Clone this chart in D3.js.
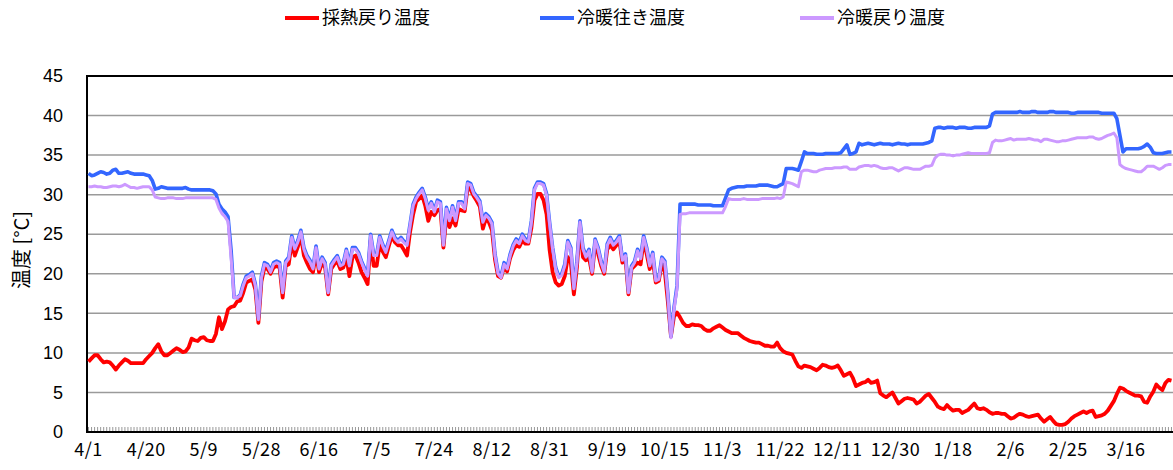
<!DOCTYPE html>
<html>
<head>
<meta charset="utf-8">
<script src="https://cdn.jsdelivr.net/npm/d3@7"></script>
<style>
  body { margin: 0; background: #fff; }
  svg { display: block; }
  .ytick text { font-family: "Liberation Sans", Arial, sans-serif; font-size: 18px; fill: #000; }
  .xlab text { font-family: "Noto Sans CJK JP", sans-serif; font-size: 18px; fill: #000; letter-spacing: 0.5px; }
  .legend text { font-family: "Noto Sans CJK JP", sans-serif; font-size: 18px; fill: #000; }
</style>
</head>
<body>
<svg id="chart" width="1173" height="470"></svg>
<script>
// series names
const seriesNames = ["採熱戻り温度", "冷暖往き温度", "冷暖戻り温度"];

// 4/1 .. 3/31, a week in early October is missing from the log
const categories = d3.timeDay.range(new Date(2021, 3, 1), new Date(2022, 3, 1))
    .filter(d => !(d >= new Date(2021, 8, 29) && d < new Date(2021, 9, 6)))
    .map(d => (d.getMonth() + 1) + "/" + d.getDate());

const tickLabels = ["4/1", "4/20", "5/9", "5/28", "6/16", "7/5", "7/24", "8/12", "8/31", "9/19",
    "10/15", "11/3", "11/22", "12/11", "12/30", "1/18", "2/6", "2/25", "3/16"];

const yTicks = [0, 5, 10, 15, 20, 25, 30, 35, 40, 45];

// 採熱戻り温度
const saiNetsuModori = [
    8.9, 9.3, 9.7, 9.7, 9.2, 8.8, 8.9, 8.8, 8.4, 7.9,
    8.4, 8.8, 9.2, 9.0, 8.7, 8.7, 8.7, 8.7, 8.7, 9.2,
    9.6, 10.0, 10.6, 11.1, 10.2, 9.7, 9.7, 10.0, 10.3, 10.6,
    10.4, 10.1, 10.2, 10.7, 11.8, 11.6, 11.5, 11.9, 12.0, 11.6,
    11.5, 11.5, 12.4, 14.5, 13.0, 14.0, 15.5, 15.8, 15.9, 16.5,
    16.6, 17.6, 18.9, 19.1, 19.3, 18.0, 13.8, 19.0, 20.8, 20.6,
    20.0, 20.8, 21.0, 20.8, 17.0, 21.0, 21.2, 24.0, 22.3, 23.4,
    24.8, 22.3, 21.4, 20.6, 20.2, 22.7, 20.2, 21.4, 20.8, 17.4,
    20.6, 21.2, 21.6, 20.6, 20.8, 22.1, 19.7, 22.1, 22.3, 21.4,
    20.2, 19.5, 18.7, 24.2, 21.0, 21.0, 23.8, 22.8, 22.1, 23.5,
    24.8, 24.0, 23.6, 23.6, 23.0, 22.3, 25.3, 27.5, 29.1, 29.5,
    29.9, 28.6, 26.7, 27.8, 27.4, 28.0, 28.2, 23.3, 27.4, 25.9,
    27.0, 26.1, 28.2, 28.0, 27.9, 31.0, 30.6, 29.8, 29.2, 28.5,
    25.7, 27.0, 26.5, 25.5, 21.8, 19.7, 19.5, 20.9, 20.3, 22.0,
    23.0, 23.6, 23.4, 24.2, 23.8, 23.8, 25.8, 29.3, 30.1, 30.1,
    29.3, 27.5, 23.0, 20.2, 18.9, 18.5, 18.7, 19.7, 22.1, 21.4,
    17.4, 20.8, 26.1, 22.1, 21.7, 22.0, 20.0, 23.8, 22.5, 21.0,
    20.0, 23.1, 23.6, 23.1, 23.6, 24.2, 21.4, 22.0, 17.4, 20.6,
    21.0, 21.4, 21.2, 24.2, 22.5, 20.6, 21.8, 18.9, 19.1, 21.4,
    20.2, 16.4, 12.1, 14.6, 15.1, 14.5, 13.8, 13.4, 13.4, 13.6,
    13.5, 13.5, 13.4, 13.0, 12.8, 12.8, 13.1, 13.3, 13.5, 13.2,
    12.9, 12.7, 12.5, 12.5, 12.5, 12.2, 11.9, 11.7, 11.5, 11.4,
    11.3, 11.3, 11.1, 10.9, 10.9, 10.8, 10.8, 11.3, 10.6, 10.2,
    10.0, 9.9, 9.8, 9.0, 8.3, 8.1, 8.4, 8.3, 8.2, 8.0,
    7.8, 8.1, 8.5, 8.4, 8.2, 8.1, 8.2, 8.4, 7.8, 7.1,
    7.3, 7.5, 6.8, 5.8, 6.0, 6.2, 6.3, 6.6, 6.2, 6.3,
    6.5, 4.9, 4.6, 4.4, 4.7, 5.0, 4.3, 3.6, 3.9, 4.2,
    4.3, 4.2, 4.1, 3.6, 3.8, 4.2, 4.6, 4.8, 4.3, 3.8,
    3.2, 3.0, 2.9, 3.4, 3.0, 2.7, 2.8, 2.8, 2.4, 2.6,
    2.8, 3.2, 3.6, 3.0, 2.9, 3.0, 2.8, 2.5, 2.3, 2.4,
    2.4, 2.3, 2.3, 2.0, 1.7, 1.8, 2.1, 2.3, 2.2, 2.0,
    1.9, 2.0, 2.1, 2.2, 1.7, 1.3, 1.6, 1.9, 1.4, 1.0,
    0.9, 0.9, 1.0, 1.3, 1.7, 2.0, 2.2, 2.4, 2.6, 2.4,
    2.6, 2.7, 1.9, 2.0, 2.1, 2.3, 2.7, 3.3, 3.9, 4.8,
    5.6, 5.5, 5.2, 5.0, 4.8, 4.6, 4.6, 4.5, 3.8, 3.7,
    4.5, 5.1, 6.0, 5.6, 5.3, 6.2, 6.6, 6.5
];

// 冷暖往き温度
const reidanYuki = [
    32.7, 32.4, 32.5, 32.7, 32.9, 32.8, 32.6, 32.7, 33.1, 33.2,
    32.7, 32.7, 32.8, 32.9, 32.7, 32.6, 32.6, 32.6, 32.6, 32.5,
    32.4, 31.8, 30.7, 30.8, 31.0, 30.9, 30.8, 30.8, 30.8, 30.8,
    30.8, 30.8, 30.9, 30.7, 30.6, 30.6, 30.6, 30.6, 30.6, 30.6,
    30.6, 30.5, 30.1, 28.8, 28.2, 27.8, 27.2, 23.0, 17.0, 17.0,
    17.3, 18.7, 19.7, 19.9, 20.2, 18.7, 14.4, 19.7, 21.4, 21.2,
    20.4, 21.4, 21.6, 21.4, 17.8, 21.6, 22.1, 24.8, 23.3, 24.2,
    25.5, 23.3, 22.3, 21.7, 20.8, 23.5, 20.8, 22.1, 21.4, 17.8,
    21.2, 21.8, 22.3, 21.2, 21.4, 23.1, 21.2, 23.3, 23.3, 22.7,
    21.6, 20.7, 19.9, 25.0, 22.5, 22.5, 24.8, 23.7, 22.9, 24.2,
    25.5, 24.6, 24.2, 24.6, 24.1, 23.8, 26.3, 28.8, 29.7, 30.3,
    30.8, 29.7, 28.2, 29.1, 28.0, 29.3, 29.1, 23.8, 28.4, 26.9,
    28.6, 26.9, 29.1, 29.1, 28.4, 31.6, 31.4, 30.3, 29.8, 29.2,
    26.7, 27.6, 27.2, 26.5, 22.5, 20.2, 19.7, 21.4, 20.8, 22.5,
    23.7, 24.4, 24.0, 25.0, 24.4, 24.2, 26.7, 30.8, 31.6, 31.6,
    31.4, 30.1, 26.5, 23.3, 20.8, 19.7, 20.0, 21.2, 24.2, 23.3,
    18.3, 21.6, 26.7, 23.3, 22.3, 23.1, 20.4, 24.4, 23.3, 21.6,
    20.4, 23.8, 24.6, 23.8, 24.2, 24.8, 21.9, 22.5, 17.8, 21.0,
    21.6, 23.1, 22.1, 24.8, 23.3, 21.2, 22.7, 19.3, 19.5, 22.1,
    21.6, 17.4, 12.1, 15.7, 18.5, 28.8, 28.8, 28.8, 28.8, 28.8,
    28.8, 28.7, 28.7, 28.7, 28.7, 28.7, 28.6, 28.6, 28.6, 28.6,
    29.6, 30.6, 30.8, 30.9, 31.0, 31.0, 31.0, 31.1, 31.1, 31.1,
    31.1, 31.2, 31.2, 31.2, 31.2, 31.1, 31.0, 31.0, 31.2, 31.4,
    33.3, 33.3, 33.3, 33.2, 33.1, 34.2, 35.4, 35.2, 35.2, 35.2,
    35.1, 35.1, 35.1, 35.2, 35.2, 35.2, 35.2, 35.2, 35.3, 35.8,
    36.3, 35.1, 35.2, 35.4, 36.5, 36.3, 36.4, 36.5, 36.4, 36.3,
    36.4, 36.5, 36.4, 36.4, 36.4, 36.3, 36.4, 36.5, 36.4, 36.4,
    36.3, 36.4, 36.4, 36.4, 36.4, 36.4, 36.5, 36.6, 36.8, 38.4,
    38.5, 38.5, 38.4, 38.5, 38.5, 38.5, 38.4, 38.5, 38.5, 38.5,
    38.4, 38.4, 38.5, 38.5, 38.5, 38.5, 38.5, 38.7, 40.2, 40.4,
    40.4, 40.4, 40.4, 40.4, 40.4, 40.4, 40.4, 40.5, 40.4, 40.4,
    40.4, 40.5, 40.5, 40.4, 40.4, 40.4, 40.4, 40.5, 40.5, 40.4,
    40.4, 40.4, 40.4, 40.4, 40.3, 40.3, 40.4, 40.4, 40.4, 40.4,
    40.4, 40.4, 40.4, 40.4, 40.3, 40.3, 40.3, 40.3, 40.3, 39.6,
    37.5, 35.4, 35.8, 35.8, 35.8, 35.8, 35.8, 35.9, 36.1, 36.4,
    36.0, 35.3, 35.2, 35.2, 35.2, 35.3, 35.4, 35.4
];

// 冷暖戻り温度
const reidanModori = [
    31.0, 31.0, 31.1, 31.0, 31.0, 30.9, 30.9, 31.0, 31.1, 31.1,
    31.0, 31.1, 31.3, 31.1, 30.9, 30.9, 30.8, 30.9, 31.0, 31.0,
    31.0, 30.6, 29.7, 29.6, 29.5, 29.5, 29.6, 29.6, 29.6, 29.5,
    29.5, 29.5, 29.6, 29.6, 29.6, 29.6, 29.6, 29.6, 29.6, 29.6,
    29.6, 29.6, 29.4, 28.3, 27.6, 27.2, 26.6, 22.0, 17.0, 17.0,
    17.2, 18.5, 19.5, 19.7, 20.0, 18.5, 14.2, 19.5, 21.2, 21.0,
    20.2, 21.2, 21.4, 21.2, 17.6, 21.4, 21.9, 24.6, 23.1, 24.0,
    25.3, 23.1, 22.1, 21.5, 20.6, 23.3, 20.6, 21.9, 21.2, 17.6,
    21.0, 21.6, 22.1, 21.0, 21.2, 22.9, 21.0, 23.1, 23.1, 22.5,
    21.4, 20.5, 19.7, 24.8, 22.3, 22.3, 24.6, 23.5, 22.7, 24.0,
    25.3, 24.4, 24.0, 24.4, 23.9, 23.6, 26.1, 28.6, 29.5, 30.1,
    30.6, 29.5, 28.0, 28.9, 27.8, 29.1, 28.9, 23.6, 28.2, 26.7,
    28.4, 26.7, 28.9, 28.9, 28.2, 31.4, 31.2, 30.1, 29.6, 29.0,
    26.5, 27.4, 27.0, 26.3, 22.3, 20.0, 19.5, 21.2, 20.6, 22.3,
    23.5, 24.2, 23.8, 24.8, 24.2, 24.0, 26.5, 30.6, 31.4, 31.4,
    31.2, 29.9, 26.3, 23.1, 20.6, 19.5, 19.8, 21.0, 24.0, 23.1,
    18.1, 21.4, 26.5, 23.1, 22.1, 22.9, 20.2, 24.2, 23.1, 21.4,
    20.2, 23.6, 24.4, 23.6, 24.0, 24.6, 21.7, 22.3, 17.6, 20.8,
    21.4, 22.9, 21.9, 24.6, 23.1, 21.0, 22.5, 19.1, 19.3, 21.9,
    21.4, 17.2, 11.9, 15.5, 18.1, 27.5, 27.6, 27.6, 27.7, 27.7,
    27.7, 27.7, 27.7, 27.7, 27.7, 27.7, 27.7, 27.7, 27.7, 27.7,
    28.5, 29.5, 29.4, 29.4, 29.4, 29.4, 29.5, 29.4, 29.4, 29.4,
    29.4, 29.4, 29.5, 29.5, 29.5, 29.5, 29.5, 29.6, 29.5, 29.7,
    31.6, 31.5, 31.4, 31.2, 31.0, 32.9, 33.1, 33.1, 33.0, 32.9,
    32.9, 33.1, 33.2, 33.3, 33.3, 33.3, 33.4, 33.4, 33.4, 33.5,
    33.5, 33.2, 33.2, 33.2, 33.5, 33.6, 33.7, 33.7, 33.6, 33.7,
    33.6, 33.4, 33.3, 33.3, 33.4, 33.4, 33.2, 33.0, 33.2, 33.4,
    33.4, 33.3, 33.2, 33.2, 33.2, 33.4, 33.6, 33.6, 33.7, 34.6,
    35.0, 35.1, 35.1, 35.0, 35.0, 34.9, 35.0, 35.0, 35.1, 35.2,
    35.3, 35.2, 35.2, 35.2, 35.2, 35.2, 35.2, 35.3, 36.6, 36.9,
    36.8, 36.8, 36.9, 37.0, 37.1, 36.9, 37.0, 37.0, 37.0, 37.0,
    37.1, 37.0, 36.9, 36.9, 36.7, 37.0, 37.0, 36.9, 36.8, 36.7,
    36.7, 36.8, 36.8, 36.9, 37.0, 37.1, 37.2, 37.2, 37.2, 37.2,
    37.3, 37.3, 37.1, 37.0, 37.1, 37.3, 37.5, 37.6, 37.8, 37.2,
    33.8, 33.5, 33.3, 33.2, 33.1, 33.0, 32.9, 32.9, 33.2, 33.6,
    33.6, 33.6, 33.4, 33.2, 33.4, 33.7, 33.8, 33.8
];

const colors = ["#ff0000", "#3366ff", "#cc99ff"];
const widths = [3.8, 3.6, 3];

/************************************************/
/* Layout                                       */
/************************************************/

const svg = d3.select("#chart"),
    margin = {top: 76, right: 0, bottom: 38, left: 87},
    W = +svg.attr("width"), H = +svg.attr("height");

const x = d3.scaleBand()
    .domain(d3.range(categories.length))
    .range([margin.left, W - margin.right]);

const y = d3.scaleLinear()
    .domain([0, 45])
    .range([H - margin.bottom, margin.top]);

const cx = i => x(i) + x.bandwidth() / 2;

// horizontal grid
svg.append("g")
    .selectAll("line")
    .data(yTicks.slice(1, -1))
    .join("line")
    .attr("x1", margin.left).attr("x2", W)
    .attr("y1", d => y(d)).attr("y2", d => y(d))
    .attr("stroke", "#9a9a9a")
    .attr("stroke-width", 1.5);

// small category ticks along the bottom
svg.append("g")
    .attr("transform", "translate(0," + y(0) + ")")
    .call(d3.axisBottom(x).tickSize(-5).tickFormat(""))
    .call(g => g.select(".domain").remove())
    .call(g => g.selectAll(".tick line").attr("stroke", "#999"));

// y axis labels
svg.append("g")
    .attr("class", "ytick")
    .attr("transform", "translate(" + margin.left + ",0)")
    .call(d3.axisLeft(y).tickValues(yTicks).tickSize(0).tickPadding(24))
    .call(g => g.select(".domain").remove());

// x axis labels every 19 categories
const labelIdx = tickLabels.map((t, k) => k * 19);
svg.append("g")
    .attr("class", "xlab")
    .attr("transform", "translate(0," + y(0) + ")")
    .call(d3.axisBottom(x).tickValues(labelIdx).tickSize(0).tickPadding(11)
        .tickFormat((d, k) => tickLabels[k]))
    .call(g => g.select(".domain").remove());

// frame: left, top and bottom lines
svg.append("path")
    .attr("d", "M" + W + "," + y(45) + "H" + margin.left + "V" + y(0) + "H" + W)
    .attr("fill", "none")
    .attr("stroke", "#000")
    .attr("stroke-width", 2);

// lines
const line = d3.line()
    .x((d, i) => cx(i))
    .y(d => y(d));

[saiNetsuModori, reidanYuki, reidanModori].forEach((s, k) => {
    svg.append("path")
        .datum(s)
        .attr("d", line)
        .attr("fill", "none")
        .attr("stroke", colors[k])
        .attr("stroke-width", widths[k])
        .attr("stroke-linejoin", "round");
});

// y axis title
svg.append("text")
    .attr("transform", "translate(29,250) rotate(-90)")
    .attr("text-anchor", "middle")
    .style("font-family", "'Noto Sans CJK JP', sans-serif")
    .style("font-size", "20px")
    .text("温度 [°C]");

// legend
const legendX = [285, 540, 800];
const legend = svg.append("g").attr("class", "legend");
seriesNames.forEach((n, k) => {
    legend.append("line")
        .attr("x1", legendX[k]).attr("x2", legendX[k] + 34)
        .attr("y1", 18).attr("y2", 18)
        .attr("stroke", colors[k])
        .attr("stroke-width", 4);
    legend.append("text")
        .attr("x", legendX[k] + 37)
        .attr("y", 24)
        .text(n);
});
</script>
</body>
</html>
